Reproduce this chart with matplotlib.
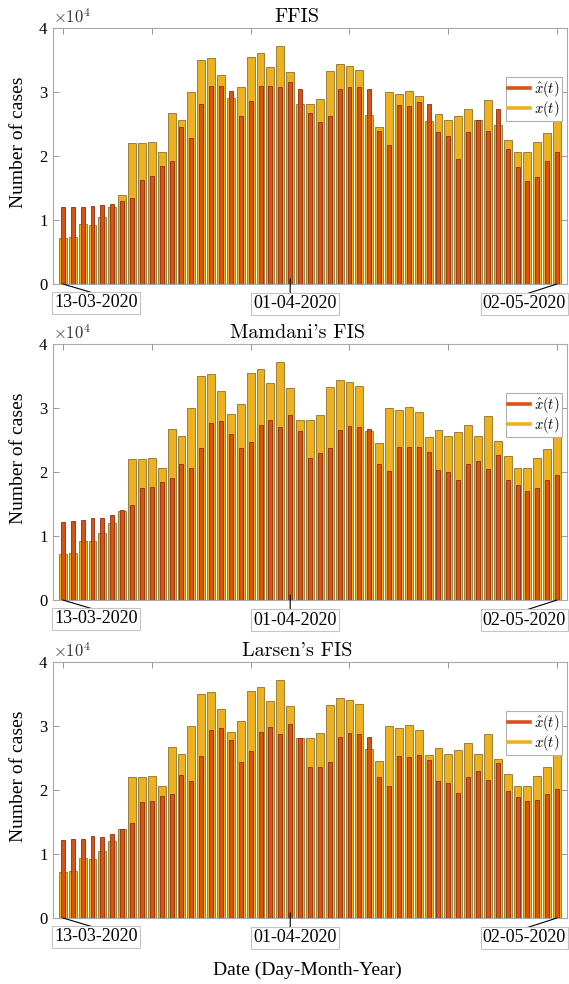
import matplotlib
matplotlib.use('Agg')
from matplotlib import pyplot as plt
from matplotlib.lines import Line2D
from matplotlib.ticker import FuncFormatter

plt.rcParams['font.family'] = ['Liberation Serif', 'DejaVu Serif']
plt.rcParams['mathtext.fontset'] = 'cm'

# daily new cases, 13-03-2020 .. 02-05-2020
x_actual = [7130, 7300, 9300, 9150, 10400, 12100, 13850, 22100, 22000, 22250,
            20600, 26650, 25550, 29950, 35050, 35350, 32650, 29050, 30700, 35450,
            36050, 33900, 37150, 33100, 28050, 28050, 28970, 33300, 34300, 34000,
            33400, 26380, 24550, 29970, 29680, 30140, 29300, 25500, 26550, 25580,
            26240, 27330, 25670, 28720, 24830, 22460, 20600, 20650, 22200, 23600,
            25720]

x_ffis = [12100, 12100, 12100, 12200, 12300, 12470, 13000, 13400, 16200, 16850,
          18470, 19140, 24570, 22850, 28100, 30880, 31000, 30150, 26240, 28640,
          30930, 30930, 30780, 31600, 30400, 26660, 25300, 26200, 30500, 30700,
          30800, 30500, 23900, 21750, 28000, 27750, 28500, 28100, 23700, 23100,
          19600, 23700, 25660, 23900, 27330, 21100, 18300, 16100, 16750, 19250,
          20660]

x_mamdani = [12200, 12360, 12470, 12830, 12830, 13300, 14080, 14900, 17500, 17660,
             18440, 19000, 21250, 20700, 23740, 27630, 27950, 25970, 23740, 24680,
             27380, 28100, 27000, 28880, 26390, 22180, 22960, 23740, 26550, 27170,
             27000, 26650, 21300, 20100, 23950, 23900, 23950, 23100, 20300, 20000,
             18750, 21250, 21800, 20470, 22650, 18750, 17970, 17040, 17500, 18750,
             19530]

x_larsen = [12190, 12340, 12340, 12810, 12710, 13180, 13900, 14900, 18070, 18280,
            19060, 19320, 22340, 21400, 25310, 29430, 29640, 27810, 24430, 26090,
            29060, 29790, 28700, 30310, 28070, 23600, 23600, 24430, 28280, 28900,
            28750, 28330, 22030, 20620, 25360, 25160, 25520, 24690, 21400, 21040,
            19480, 21980, 22900, 21510, 24220, 19840, 18900, 18230, 18390, 19370,
            20160]

# cmr10 maps the ASCII quote to a closing quote glyph
titles = ['FFIS', "Mamdani's FIS", "Larsen's FIS"]
estimates = [x_ffis, x_mamdani, x_larsen]
date_labels = ['13-03-2020', '01-04-2020', '02-05-2020']
date_idx = [1, 24, 51]

c_est = '#D95319'
c_act = '#EDB120'
frame_c = '#a8a8a8'

days = list(range(1, len(x_actual) + 1))

fig = plt.figure(figsize=(5.69, 9.84), dpi=100)
bottoms = [0.7114, 0.3902, 0.0671]

for k, (title, est) in enumerate(zip(titles, estimates)):
    ax = fig.add_axes([0.0931, bottoms[k], 0.9033, 0.2602])
    ax.bar(days, x_actual, width=0.8, color=c_act, edgecolor='#8a7230', linewidth=0.6, zorder=2)
    ax.bar(days, est, width=0.4, color=c_est, edgecolor='#8e2f0c', linewidth=0.6, zorder=3)

    ax.set_xlim(0, 52)
    ax.set_ylim(0, 40000)
    ax.set_yticks([0, 10000, 20000, 30000, 40000])
    ax.yaxis.set_major_formatter(FuncFormatter(lambda v, p: f'{v / 1e4:g}'))
    ax.set_xticks([1, 10, 20, 30, 40, 51])
    ax.set_xticklabels([])
    ax.tick_params(direction='in', length=4, width=0.6, color='#888888',
                   top=True, right=True, labelsize=12, pad=4)
    for s in ax.spines.values():
        s.set_color(frame_c)
        s.set_linewidth(0.8)

    ax.text(0.0, 1.005, r'$\times10^{4}$', transform=ax.transAxes,
            ha='left', va='bottom', fontsize=12, color='#333333')
    ax.set_title(title, family=['cmr10', 'DejaVu Serif'], fontsize=14.5, x=0.475, pad=4)
    ax.set_ylabel('Number of cases', fontsize=14, va='center')
    ax.yaxis.set_label_coords(-0.067, 0.555)

    handles = [Line2D([], [], color=c_est, lw=2.6), Line2D([], [], color=c_act, lw=2.6)]
    leg = ax.legend(handles, [r'$\hat{x}(t)$', r'$x(t)$'], loc='upper right',
                    bbox_to_anchor=(0.99, 0.81), fontsize=10.5, fancybox=False,
                    edgecolor='#b0b0b0', framealpha=1, borderpad=0.15,
                    handlelength=1.5, handletextpad=0.3, labelspacing=0.0,
                    borderaxespad=0)
    leg.get_frame().set_linewidth(0.8)

    # date call-outs under the axis
    line_ends = [(0.078, -0.035), (None, -0.043), (0.914, -0.043)]
    box_pos = [(0.0837, -0.074), (0.4708, -0.078), (0.9173, -0.078)]
    for lab, i, (ex, ey), (bx, by) in zip(date_labels, date_idx, line_ends, box_pos):
        if ex is None:
            ax.annotate('', xy=(i, 0.02), xycoords=('data', 'axes fraction'),
                        xytext=(i, ey), textcoords=('data', 'axes fraction'),
                        arrowprops=dict(arrowstyle='-', color='k', lw=0.8,
                                        shrinkA=0, shrinkB=0),
                        annotation_clip=False)
        else:
            ax.annotate('', xy=(i, 0), xycoords='data',
                        xytext=(ex, ey), textcoords='axes fraction',
                        arrowprops=dict(arrowstyle='-', color='k', lw=0.8,
                                        shrinkA=0, shrinkB=0),
                        annotation_clip=False)
        ax.text(bx, by, lab, transform=ax.transAxes, ha='center', va='center',
                fontsize=13, zorder=5,
                bbox=dict(boxstyle='square,pad=0.12', fc='white', ec='#c4c4c4', lw=0.8))

    if k == 2:
        ax.set_xlabel('Date (Day-Month-Year)', fontsize=14, va='center')
        ax.xaxis.set_label_coords(0.494, -0.203)

fig.savefig('out.png', dpi=100)
